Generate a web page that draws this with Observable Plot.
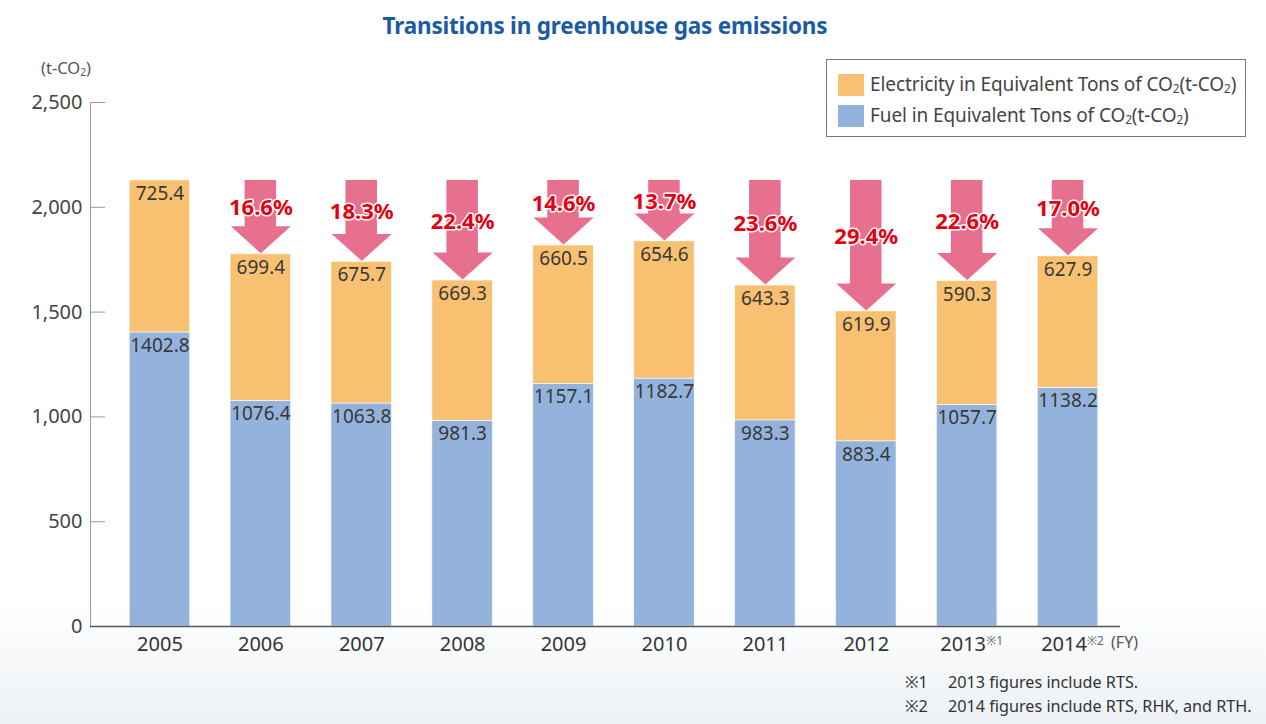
<!DOCTYPE html>
<html>
<head>
<meta charset="utf-8">
<script src="https://cdn.jsdelivr.net/npm/d3@7"></script>
<script src="https://cdn.jsdelivr.net/npm/@observablehq/plot@0.6"></script>
<style>
  html, body { margin: 0; padding: 0; }
  body {
    width: 1266px; height: 724px; overflow: hidden;
    background: linear-gradient(to bottom, #ffffff 0px, #ffffff 600px, #edf1f5 724px);
    font-family: "Noto Sans", sans-serif;
  }
  #wrap { position: relative; width: 1266px; height: 724px; }
  #title {
    position: absolute; top: 10px; left: 0; width: 1210px; text-align: center;
    font-size: 22.5px; font-weight: 700; color: #1a5ba6; letter-spacing: -0.2px;
  }
  #chart { position: absolute; top: 52px; left: 0; }
  #ylabel { position: absolute; left: 41px; top: 56px; font-size: 16.5px; color: #555; }
  #ylabel sub, #legend sub { font-size: 0.62em; vertical-align: -0.15em; }
  #legend {
    position: absolute; left: 826px; top: 59px; width: 418px; height: 76px;
    border: 1px solid #777; background: #fff; color: #444; font-size: 19px;
  }
  #legend .row { position: absolute; left: 11px; height: 24px; line-height: 24px; white-space: nowrap; letter-spacing: -0.1px; }
  #legend .sw { display: inline-block; width: 26px; height: 22px; vertical-align: -5px; margin-right: 6px; }
  #notes { position: absolute; left: 905px; top: 670px; font-size: 16.2px; color: #333; line-height: 24px; }
  #notes .k { display: inline-block; width: 43px; }
</style>
</head>
<body>
<div id="wrap">
  <div id="title">Transitions in greenhouse gas emissions</div>
  <div id="ylabel">(t-CO<sub>2</sub>)</div>
  <div id="chart"></div>
  <div id="legend">
    <div class="row" style="top:12px"><span class="sw" style="background:#f8c172"></span>Electricity in Equivalent Tons of CO<sub>2</sub>(t-CO<sub>2</sub>)</div>
    <div class="row" style="top:43px"><span class="sw" style="background:#94b3dc"></span>Fuel in Equivalent Tons of CO<sub>2</sub>(t-CO<sub>2</sub>)</div>
  </div>
  <div id="notes">
    <div><span class="k">※1</span>2013 figures include RTS.</div>
    <div><span class="k">※2</span>2014 figures include RTS, RHK, and RTH.</div>
  </div>
</div>
<script>
// ---- data ----
const years = ["2005","2006","2007","2008","2009","2010","2011","2012","2013","2014"];
const fuel = [1402.8, 1076.4, 1063.8, 981.3, 1157.1, 1182.7, 983.3, 883.4, 1057.7, 1138.2];
const electricity = [725.4, 699.4, 675.7, 669.3, 660.5, 654.6, 643.3, 619.9, 590.3, 627.9];
const reductionLabels = ["", "16.6%", "18.3%", "22.4%", "14.6%", "13.7%", "23.6%", "29.4%", "22.6%", "17.0%"];
const yTicks = [0, 500, 1000, 1500, 2000, 2500];
const superscripts = [{year: "2013", text: "※1"}, {year: "2014", text: "※2"}];
const fyLabel = "(FY)";

// ---- derived tables ----
const segments = [];
years.forEach((y, i) => {
  segments.push({year: y, type: "Fuel", value: fuel[i]});
  segments.push({year: y, type: "Electricity", value: electricity[i]});
});
const totals = years.map((y, i) => fuel[i] + electricity[i]);
const baseTotal = totals[0];
const arrows = years.map((y, i) => ({year: y, total: totals[i], label: reductionLabels[i]})).filter(d => d.label);

const pink = "#e8708f";
const headSymbol = {
  draw(context) {
    context.moveTo(0, 0);
    context.lineTo(-30, -27);
    context.lineTo(30, -27);
    context.closePath();
  }
};

const plainYears = years.filter(y => !superscripts.some(s => s.year === y));

const chart = Plot.plot({
  width: 1266,
  height: 614,
  marginLeft: 90,
  marginRight: 146,
  marginTop: 50,
  marginBottom: 40,
  style: {fontFamily: "Noto Sans, sans-serif", background: "transparent", overflow: "visible"},
  x: {type: "band", domain: years, paddingInner: 0.4, paddingOuter: 0.2, insetLeft: 19, insetRight: 2, round: false, label: null},
  y: {domain: [0, 2500], label: null},
  color: {domain: ["Fuel", "Electricity"], range: ["#94b3dc", "#f8c172"]},
  marks: [
    Plot.barY(segments, {x: "year", y: "value", fill: "type", stroke: "#fff", strokeWidth: 0.6}),
    Plot.text(segments, Plot.stackY2({x: "year", y: "value", text: d => d.value.toFixed(1), lineAnchor: "top", dy: 6, fontSize: 19, fill: "#383838"})),
    // arrows: shaft + head
    Plot.barY(arrows, {x: "year", y1: "total", y2: () => baseTotal, insetLeft: 14.5, insetRight: 14.5, insetBottom: 26, fill: pink}),
    Plot.dot(arrows, {x: "year", y: "total", symbol: headSymbol, fill: pink, stroke: "none", dy: -1}),
    Plot.text(arrows, {x: "year", y: d => (d.total + baseTotal) / 2, text: "label", dy: -9, fontSize: 22, fontWeight: "bold", fill: "#e50012", stroke: "#fff", strokeWidth: 3}),
    // axes
    Plot.frame({anchor: "left", stroke: "#999"}),
    Plot.axisY({ticks: yTicks, tickFormat: d3.format(","), tickSize: -15, tickPadding: 23, fontSize: 20, color: "#444", stroke: "#999"}),
    Plot.ruleY([0], {stroke: "#555", strokeWidth: 1.5}),
    Plot.axisX({ticks: plainYears, tickSize: 0, tickPadding: 10, fontSize: 20, color: "#333"}),
    Plot.text(superscripts, {x: "year", text: "year", frameAnchor: "bottom", lineAnchor: "top", dy: 10, dx: -4, fontSize: 20, fill: "#333"}),
    Plot.text(superscripts, {x: "year", text: "text", frameAnchor: "bottom", textAnchor: "start", dy: 18, dx: 19, fontSize: 12, fill: "#666"}),
    Plot.text([fyLabel], {x: () => "2014", text: d => d, frameAnchor: "bottom", textAnchor: "start", dy: 21, dx: 43, fontSize: 16, fill: "#555"})
  ]
});
document.getElementById("chart").appendChild(chart);
</script>
</body>
</html>
